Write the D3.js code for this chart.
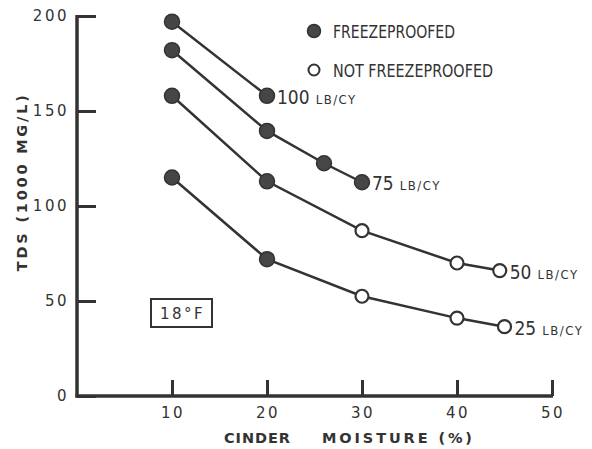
<!DOCTYPE html>
<html>
<head>
<meta charset="utf-8">
<script src="https://cdn.jsdelivr.net/npm/d3@7"></script>
<style>
  html, body { margin: 0; padding: 0; background: #fff; }
  svg { display: block; }
  .tick-label { font-family: "DejaVu Sans", sans-serif; font-size: 15px; fill: #333; letter-spacing: 2.5px; }
  .axis-title { font-family: "DejaVu Sans", sans-serif; font-size: 14.5px; font-weight: bold; fill: #333; }
  .lettering { font-family: "Liberation Sans Narrow", "DejaVu Sans Condensed", sans-serif; fill: #333; }
</style>
</head>
<body>
<svg id="chart" width="592" height="449"></svg>
<script>
// Cinder moisture (%) ticks and TDS (1000 mg/L) ticks
const xTicks = [10, 20, 30, 40, 50];
const yTicks = [0, 50, 100, 150, 200];

// TDS versus cinder moisture, one series per salt application rate
const series100 = [
  { m: 10, tds: 197, frozen: true },
  { m: 20, tds: 158, frozen: true }
];
const series75 = [
  { m: 10, tds: 182, frozen: true },
  { m: 20, tds: 139.5, frozen: true },
  { m: 26, tds: 122.5, frozen: true },
  { m: 30, tds: 112.5, frozen: true }
];
const series50 = [
  { m: 10, tds: 158, frozen: true },
  { m: 20, tds: 113, frozen: true },
  { m: 30, tds: 87, frozen: false },
  { m: 40, tds: 70, frozen: false },
  { m: 44.5, tds: 66, frozen: false }
];
const series25 = [
  { m: 10, tds: 115, frozen: true },
  { m: 20, tds: 72, frozen: true },
  { m: 30, tds: 52.5, frozen: false },
  { m: 40, tds: 41, frozen: false },
  { m: 45, tds: 36.5, frozen: false }
];
const rateLabels = ["100", "75", "50", "25"];
const legendLabels = ["FREEZEPROOFED", "NOT FREEZEPROOFED"];

const svg = d3.select("#chart");
const ink = "#333";

const x = d3.scaleLinear().domain([0, 50]).range([77, 552]);
const y = d3.scaleLinear().domain([0, 200]).range([396, 16]);

// Axes: heavy spines, ticks pointing into the plot
const yAxis = d3.axisRight(y).tickValues(yTicks).tickSize(19).tickFormat("");
const gy = svg.append("g").attr("transform", `translate(${x(0)},0)`).call(yAxis);
gy.select(".domain").remove();
gy.selectAll(".tick line").attr("stroke", ink).attr("stroke-width", 3);

const xAxis = d3.axisTop(x).tickValues(xTicks).tickSize(16).tickFormat("");
const gx = svg.append("g").attr("transform", `translate(0,${y(0)})`).call(xAxis);
gx.select(".domain").remove();
gx.selectAll(".tick line").attr("stroke", ink).attr("stroke-width", 3);

svg.append("line")
  .attr("x1", x(0)).attr("x2", x(0)).attr("y1", y(200) - 1).attr("y2", y(0) + 1.5)
  .attr("stroke", ink).attr("stroke-width", 3.5);
svg.append("line")
  .attr("x1", x(0) - 1.5).attr("x2", x(50) + 1).attr("y1", y(0)).attr("y2", y(0))
  .attr("stroke", ink).attr("stroke-width", 3.5);

// Tick labels
svg.selectAll(".ylab").data(yTicks).enter().append("text")
  .attr("class", "tick-label")
  .attr("x", x(0) - 8).attr("y", d => y(d) + 5)
  .attr("text-anchor", "end")
  .text(d => d);
svg.selectAll(".xlab").data(xTicks).enter().append("text")
  .attr("class", "tick-label")
  .attr("x", d => x(d) + 1).attr("y", y(0) + 22)
  .attr("text-anchor", "middle")
  .text(d => d);

// Axis titles
svg.append("text").attr("class", "axis-title")
  .attr("transform", `translate(27,${y(112)}) rotate(-90)`)
  .attr("text-anchor", "middle")
  .attr("textLength", 176).attr("lengthAdjust", "spacing")
  .text("TDS (1000 MG/L)");
svg.append("text").attr("class", "axis-title")
  .attr("x", 224).attr("y", 443)
  .attr("textLength", 66).attr("lengthAdjust", "spacing")
  .text("CINDER");
svg.append("text").attr("class", "axis-title")
  .attr("x", 322).attr("y", 443)
  .attr("textLength", 150).attr("lengthAdjust", "spacing")
  .text("MOISTURE (%)");

// Curves and markers
const line = d3.line().x(d => x(d.m)).y(d => y(d.tds));
const allSeries = [series100, series75, series50, series25];

allSeries.forEach(s => {
  svg.append("path").datum(s)
    .attr("d", line)
    .attr("fill", "none").attr("stroke", ink).attr("stroke-width", 2.5);
});
allSeries.forEach(s => {
  svg.selectAll(null).data(s).enter().append("circle")
    .attr("cx", d => x(d.m)).attr("cy", d => y(d.tds))
    .attr("r", d => d.frozen ? 7.5 : 6.5)
    .attr("fill", d => d.frozen ? "#464646" : "#fff")
    .attr("stroke", ink).attr("stroke-width", d => d.frozen ? 1.5 : 2.2);
});

// Rate labels at the end of each curve
allSeries.forEach((s, i) => {
  const last = s[s.length - 1];
  const t = svg.append("text").attr("class", "lettering")
    .attr("x", x(last.m) + 10).attr("y", y(last.tds) + 8);
  t.append("tspan").attr("font-size", 19).text(rateLabels[i]);
  t.append("tspan").attr("font-size", 13).attr("dx", 6).attr("letter-spacing", 1.5).text("LB/CY");
});

// Legend
const legend = svg.append("g");
legendLabels.forEach((lab, i) => {
  const ly = 31 + i * 39;
  legend.append("circle")
    .attr("cx", 314).attr("cy", ly).attr("r", i === 0 ? 6.5 : 5.5)
    .attr("fill", i === 0 ? "#464646" : "#fff")
    .attr("stroke", ink).attr("stroke-width", i === 0 ? 1.5 : 2);
  legend.append("text").attr("class", "lettering")
    .attr("x", 333).attr("y", ly + 7)
    .attr("font-size", 17)
    .attr("textLength", i === 0 ? 122 : 160)
    .attr("lengthAdjust", "spacingAndGlyphs")
    .text(lab);
});

// Temperature box
svg.append("rect")
  .attr("x", 151).attr("y", 299).attr("width", 61).attr("height", 28)
  .attr("fill", "none").attr("stroke", ink).attr("stroke-width", 2);
svg.append("text").attr("class", "tick-label")
  .attr("x", 182.5).attr("y", 319).attr("text-anchor", "middle")
  .attr("letter-spacing", 1)
  .text("18°F");
</script>
</body>
</html>
